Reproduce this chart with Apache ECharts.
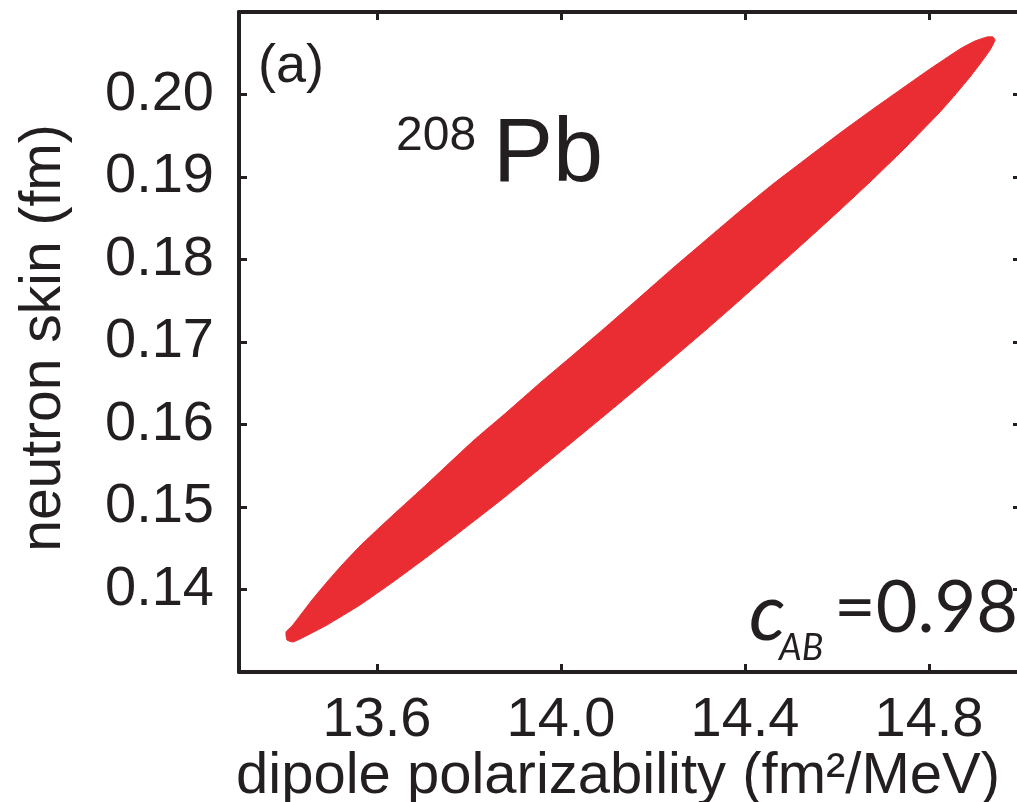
<!DOCTYPE html>
<html>
<head>
<meta charset="utf-8">
<script src="https://cdn.jsdelivr.net/npm/echarts@6/dist/echarts.min.js"></script>
<style>
  html, body { margin: 0; padding: 0; background: #ffffff; }
  #chart { width: 1017px; height: 802px; }
</style>
</head>
<body>
<div id="chart"></div>
<script>
// ---- data ----
const xTickLabels = ['13.6', '14.0', '14.4', '14.8'];
const yTickLabels = ['0.14', '0.15', '0.16', '0.17', '0.18', '0.19', '0.20'];
// upper boundary of the red region (lower-left tip -> upper-right tip)
const upperEdgeX = [13.4043, 13.4022, 13.4152, 13.4370, 13.4587, 13.4913, 13.5239, 13.5630, 13.6043, 13.6348, 13.7087, 13.8087, 13.8826, 13.9543, 14.0261, 14.1000, 14.1717, 14.2435, 14.3174, 14.3891, 14.4609, 14.5348, 14.6065, 14.6783, 14.7370, 14.7957, 14.8674, 14.9000, 14.9261, 14.9391, 14.9435];
const upperEdgeY = [0.13388, 0.13485, 0.13558, 0.13715, 0.13873, 0.14091, 0.14297, 0.14527, 0.14745, 0.14903, 0.15279, 0.15800, 0.16152, 0.16503, 0.16842, 0.17194, 0.17545, 0.17897, 0.18248, 0.18588, 0.18915, 0.19230, 0.19533, 0.19824, 0.20055, 0.20285, 0.20552, 0.20648, 0.20697, 0.20697, 0.20661];
// lower boundary (upper-right tip -> lower-left tip)
const lowerEdgeX = [14.9326, 14.9109, 14.8891, 14.8565, 14.8239, 14.7435, 14.6717, 14.6065, 14.5348, 14.4609, 14.3891, 14.3174, 14.2435, 14.1717, 14.1000, 14.0261, 13.9543, 13.8739, 13.7804, 13.7087, 13.6348, 13.5630, 13.4913, 13.4543, 13.4326, 13.4174];
const lowerEdgeY = [0.20539, 0.20370, 0.20212, 0.19994, 0.19788, 0.19327, 0.18939, 0.18600, 0.18236, 0.17867, 0.17509, 0.17158, 0.16806, 0.16467, 0.16133, 0.15794, 0.15467, 0.15103, 0.14697, 0.14394, 0.14091, 0.13812, 0.13570, 0.13461, 0.13400, 0.13364];

const xMin = 13.3, xMax = 15.0;
const yMin = 0.13, yMax = 0.21, yStep = 0.01;

// ---- build ----
const boundary = [];
upperEdgeX.forEach((x, i) => boundary.push([x, upperEdgeY[i]]));
lowerEdgeX.forEach((x, i) => boundary.push([x, lowerEdgeY[i]]));

const ink = '#231f20';
const red = '#e92d32';
const font = '"Liberation Sans", Arial, Helvetica, sans-serif';
const annFont = 'Lato, "Open Sans", sans-serif';

const chart = echarts.init(document.getElementById('chart'));
const xTickVals = xTickLabels.map(Number);
const yTickVals = yTickLabels.map(Number);
const pick = (labels) => (v) => labels.find(t => Math.abs(Number(t) - v) < 1e-6) || '';

const frameAxis = (pos) => ({
  axisLine: { show: true, onZero: false, lineStyle: { color: ink, width: 4 } },
  splitLine: { show: false },
  position: pos
});

const option = {
  backgroundColor: '#ffffff',
  animation: false,
  grid: { left: 239, right: -4, top: 12, bottom: 130, containLabel: false, outerBoundsMode: 'none' },
  xAxis: [Object.assign(frameAxis('bottom'), {
    type: 'value', min: xMin, max: xMax,
    axisTick: { show: true, inside: true, length: 8, customValues: xTickVals, lineStyle: { color: ink, width: 3 } },
    axisLabel: { show: true, customValues: xTickVals, margin: 21, color: ink, fontSize: 56, fontFamily: font, formatter: pick(xTickLabels) },
    name: 'dipole polarizability (fm\u00B2/MeV)', nameLocation: 'middle', nameGap: 76, nameMoveOverlap: false,
    nameTextStyle: { color: ink, fontSize: 58, fontFamily: font, padding: [0, 24, 0, 0] }
  }), Object.assign(frameAxis('top'), {
    type: 'value', min: xMin, max: xMax,
    axisTick: { show: true, inside: true, length: 8, customValues: xTickVals, lineStyle: { color: ink, width: 3 } },
    axisLabel: { show: false }
  })],
  yAxis: [Object.assign(frameAxis('left'), {
    type: 'value', min: yMin, max: yMax, interval: yStep,
    axisTick: { show: true, inside: true, length: 8, customValues: yTickVals, lineStyle: { color: ink, width: 3 } },
    axisLabel: { show: true, customValues: yTickVals, margin: 25, color: ink, fontSize: 56, fontFamily: font, formatter: pick(yTickLabels) },
    name: 'neutron skin (fm)', nameLocation: 'middle', nameGap: 166, nameRotate: 90, nameMoveOverlap: false,
    nameTextStyle: { color: ink, fontSize: 57, fontFamily: font, padding: [0, 0, 0, 8] }
  }), Object.assign(frameAxis('right'), {
    type: 'value', min: yMin, max: yMax, interval: yStep,
    axisTick: { show: true, inside: true, length: 8, customValues: yTickVals, lineStyle: { color: ink, width: 3 } },
    axisLabel: { show: false }
  })],
  series: [{
    type: 'custom',
    coordinateSystem: 'cartesian2d',
    xAxisIndex: 0, yAxisIndex: 0,
    data: [[boundary[0][0], boundary[0][1]]],
    clip: true,
    silent: true,
    renderItem: function (params, api) {
      return {
        type: 'polygon',
        shape: { points: boundary.map(p => api.coord(p)), smooth: 0.15 },
        style: { fill: red, stroke: red, lineWidth: 1 }
      };
    }
  }],
  graphic: [
    { type: 'text', left: 258, top: 40, style: { text: '(a)', font: '54px ' + font, fill: ink } },
    { type: 'text', left: 396, top: 113, style: { text: '208', font: '48px ' + font, fill: ink } },
    { type: 'text', left: 493, top: 111, style: { text: 'Pb', font: '90px ' + font, fill: ink } },
    { type: 'text', left: 749, top: 574, style: { text: 'c', font: 'italic 80px ' + annFont, fill: ink } },
    { type: 'text', left: 779, top: 630, style: { text: 'AB', font: 'italic 36px ' + annFont, fill: ink } },
    { type: 'text', left: 834, top: 573, style: { text: '=0.98', font: '72px ' + annFont, fill: ink } }
  ]
};
chart.setOption(option);
</script>
</body>
</html>
